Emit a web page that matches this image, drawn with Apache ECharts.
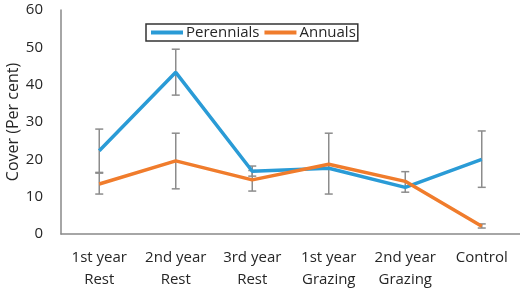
<!DOCTYPE html>
<html>
<head>
<meta charset="utf-8">
<script src="https://cdn.jsdelivr.net/npm/echarts@6/dist/echarts.min.js"></script>
<style>html,body{margin:0;padding:0;background:#fff}#c{width:520px;height:290px}</style>
</head>
<body>
<div id="c"></div>
<script>
var categories = ['1st year\nRest', '2nd year\nRest', '3rd year\nRest', '1st year\nGrazing', '2nd year\nGrazing', 'Control'];
var perennials = [22.3, 43.3, 16.8, 17.6, 12.5, 20.0];
var annuals = [13.4, 19.6, 14.5, 18.7, 14.1, 2.1];
var perennialLow = [16.3, 37.2, 15.5, null, null, 12.5];
var perennialHigh = [28.1, 49.5, 18.2, null, null, 27.6];
var annualLow = [10.7, 12.1, 11.5, 10.7, 11.2, 1.6];
var annualHigh = [16.5, 27.0, 17.0, 27.0, 16.7, 2.7];
var yTicks = [0, 10, 20, 30, 40, 50, 60];

var FONT = 'Open Sans';
var errColor = '#8c8c8c';

function errData(low, high) {
  var d = [];
  for (var i = 0; i < categories.length; i++) {
    if (low[i] != null) d.push([i, low[i], high[i]]);
  }
  return d;
}
function renderErr(params, api) {
  var x = api.value(0);
  var lo = api.coord([x, api.value(1)]);
  var hi = api.coord([x, api.value(2)]);
  var hw = 4;
  var st = { stroke: errColor, lineWidth: 1.5 };
  return {
    type: 'group',
    children: [
      { type: 'line', shape: { x1: lo[0], y1: lo[1], x2: hi[0], y2: hi[1] }, style: st },
      { type: 'line', shape: { x1: lo[0] - hw, y1: lo[1], x2: lo[0] + hw, y2: lo[1] }, style: st },
      { type: 'line', shape: { x1: hi[0] - hw, y1: hi[1], x2: hi[0] + hw, y2: hi[1] }, style: st }
    ]
  };
}

var chart = echarts.init(document.getElementById('c'), null, { renderer: 'canvas' });
chart.setOption({
  animation: false,
  grid: { left: 61, right: 0, top: 10, bottom: 56, containLabel: false, outerBoundsMode: 'none' },
  legend: {
    left: 146, top: 24,
    data: ['Perennials', 'Annuals'],
    icon: 'rect', itemWidth: 32, itemHeight: 4, itemGap: 5,
    borderColor: '#333', borderWidth: 1.5, padding: [1, 2, 1, 5],
    textStyle: { fontFamily: FONT, fontSize: 15, color: '#262626', padding: [0, 0, 0, -2] }
  },
  xAxis: {
    type: 'category', data: categories, boundaryGap: true,
    axisLine: { lineStyle: { color: '#898989', width: 1.5 } },
    axisTick: { show: false },
    axisLabel: { fontFamily: FONT, fontSize: 15, color: '#262626', margin: 13, lineHeight: 22, interval: 0 }
  },
  yAxis: {
    type: 'value', min: 0, max: 60, interval: 10,
    name: 'Cover (Per cent)', nameLocation: 'middle', nameRotate: 90, nameGap: 40,
    nameMoveOverlap: false,
    nameTextStyle: { fontFamily: FONT, fontSize: 16, color: '#262626' },
    axisLine: { show: true, lineStyle: { color: '#898989', width: 1.5 } },
    axisTick: { show: false },
    splitLine: { show: false },
    axisLabel: { fontFamily: FONT, fontSize: 15, color: '#262626', margin: 18,
      formatter: function (v) { return yTicks.indexOf(v) >= 0 ? String(v) : ''; } }
  },
  series: [
    { type: 'custom', name: 'errP', renderItem: renderErr, data: errData(perennialLow, perennialHigh), z: 1, silent: true },
    { type: 'custom', name: 'errA', renderItem: renderErr, data: errData(annualLow, annualHigh), z: 1, silent: true },
    { type: 'line', name: 'Perennials', data: perennials, showSymbol: false, color: '#2a9bd6',
      lineStyle: { width: 3.5, color: '#2a9bd6' }, z: 3 },
    { type: 'line', name: 'Annuals', data: annuals, showSymbol: false, color: '#f07c2c',
      lineStyle: { width: 3.5, color: '#f07c2c' }, z: 4 }
  ]
});
</script>
</body>
</html>
